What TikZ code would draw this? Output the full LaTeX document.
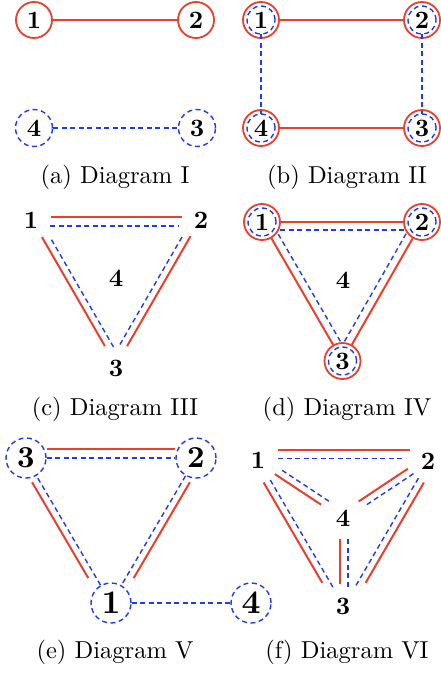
\documentclass[tikz,border=0pt]{standalone}
\usepackage{tikz}
\usetikzlibrary{calc}
\usepackage{graphicx}
\usepackage{xcolor}
\definecolor{edgered}{RGB}{234,62,46}
\definecolor{edgeblue}{RGB}{30,60,235}
\newcommand{\nb}[2][2.5]{\scalebox{#1}{\fontsize{10}{12}\selectfont\bfseries #2}}
\newcommand{\panelcap}[1]{\scalebox{2.45}{\fontsize{10}{12}\selectfont #1}}
\newcommand{\sideline}[4][]{\draw[#1] ($(#2.center)!#4!90:(#3.center)$) -- ($(#3.center)!#4!-90:(#2.center)$);}

\begin{document}
\begin{tikzpicture}[
    x=1pt, y=-1pt,
    redline/.style={draw=edgered, line width=2pt},
    blueline/.style={draw=edgeblue, line width=1.4pt, dash pattern=on 5pt off 3.5pt},
    redring/.style={circle, draw=edgered, line width=1.8pt, minimum size=36pt, inner sep=0pt},
    bluering/.style={circle, draw=edgeblue, line width=1.4pt, dash pattern=on 5pt off 3.5pt, minimum size=37pt, inner sep=0pt},
    twinring/.style={redring, path picture={\draw[blueline] (path picture bounding box.center) circle (14pt);}},
    num/.style={inner sep=0pt},
    caption/.style={anchor=base, inner sep=0pt}
  ]
    \useasboundingbox (0,0) rectangle (440,679);

    % (a)
    \node[redring] (a1) at (34,20) {\nb{1}};
    \node[redring] (a2) at (196,20) {\nb{2}};
    \node[bluering] (a4) at (34,128) {\nb{4}};
    \node[bluering] (a3) at (197,128) {\nb{3}};
    \draw[redline] (a1) -- (a2);
    \draw[blueline] (a4) -- (a3);
    \node[caption] (capa) at (115,183) {\panelcap{(a) Diagram I}};

    % (b)
    \node[twinring] (b1) at (261,20) {\nb{1}};
    \node[twinring] (b2) at (422,20) {\nb{2}};
    \node[twinring] (b4) at (261,128) {\nb{4}};
    \node[twinring] (b3) at (422,128) {\nb{3}};
    \draw[redline] (b1) -- (b2);
    \draw[redline] (b4) -- (b3);
    \draw[blueline, shorten <=-4.5pt, shorten >=-4.5pt] (b1) -- (b4);
    \draw[blueline, shorten <=-4.5pt, shorten >=-4.5pt] (b2) -- (b3);
    \node[caption] (capb) at (347,183) {\panelcap{(b) Diagram II}};

    % (c)
    \coordinate (c1) at (37,221.5);
    \coordinate (c2) at (195,221.5);
    \coordinate (c3) at (116,358.3);
    \node[num] (c1n) at (31,220) {\nb{1}};
    \node[num] (c2n) at (201,220) {\nb{2}};
    \node[num] (c3n) at (116,368) {\nb{3}};
    \node[num] (c4n) at (116,278) {\nb{4}};
    \sideline[redline, shorten <=13.5pt, shorten >=13.5pt]{c1}{c2}{4.5pt}
    \sideline[blueline, shorten <=13pt, shorten >=16pt]{c1}{c2}{-4.5pt}
    \sideline[redline, shorten <=15pt, shorten >=16pt]{c2}{c3}{3.5pt}
    \sideline[blueline, shorten <=20pt, shorten >=12pt]{c2}{c3}{-3.5pt}
    \sideline[redline, shorten <=16pt, shorten >=16pt]{c3}{c1}{3.5pt}
    \sideline[blueline, shorten <=11pt, shorten >=20pt]{c3}{c1}{-3.5pt}
    \node[caption] (capc) at (115,415) {\panelcap{(c) Diagram III}};

    % (d)
    \node[twinring] (d1) at (262,222) {\nb{1}};
    \node[twinring] (d2) at (422,222) {\nb{2}};
    \node[twinring] (d3) at (342.5,361) {\nb{3}};
    \node[num] (d4) at (343,280) {\nb{4}};
    \draw[redline] (d1) -- (d2);
    \draw[redline] (d2) -- (d3);
    \draw[redline] (d3) -- (d1);
    \sideline[blueline, shorten <=18pt, shorten >=18pt]{d1}{d2}{-8pt}
    \sideline[blueline, shorten <=18pt, shorten >=18pt]{d2}{d3}{-8pt}
    \sideline[blueline, shorten <=18pt, shorten >=18pt]{d3}{d1}{-8pt}
    \node[caption] (capd) at (347,415) {\panelcap{(d) Diagram IV}};

    % (e)
    \node[bluering, minimum size=40pt] (e3) at (26,458) {\nb[3.05]{3}};
    \node[bluering, minimum size=40pt] (e2) at (196,458) {\nb[3.05]{2}};
    \node[bluering, minimum size=40pt] (e1) at (111,603) {\nb[3.3]{1}};
    \node[bluering, minimum size=40pt] (e4) at (251,603) {\nb[3.3]{4}};
    \draw[blueline] (e3) -- (e2);
    \draw[blueline] (e2) -- (e1);
    \draw[blueline] (e1) -- (e3);
    \draw[blueline] (e1) -- (e4);
    \sideline[redline, shorten <=21pt, shorten >=21pt]{e3}{e2}{9.5pt}
    \sideline[redline, shorten <=24pt, shorten >=33pt]{e2}{e1}{7pt}
    \sideline[redline, shorten <=33pt, shorten >=24pt]{e1}{e3}{7pt}
    \node[caption] (cape) at (115,658) {\panelcap{(e) Diagram V}};

    % (f)
    \coordinate (f1) at (251,454);
    \coordinate (f2) at (436.5,454);
    \coordinate (f3) at (344,613);
    \coordinate (f4) at (344,515.5);
    \node[num] (f1n) at (258,460) {\nb{1}};
    \node[num] (f2n) at (428,461) {\nb{2}};
    \node[num] (f4n) at (343,518) {\nb{4}};
    \node[num] (f3n) at (343,606) {\nb{3}};
    \sideline[redline, shorten <=27pt, shorten >=27pt]{f1}{f2}{4.5pt}
    \sideline[blueline, shorten <=27pt, shorten >=31pt]{f1}{f2}{-4.5pt}
    \sideline[redline, shorten <=31pt, shorten >=37pt]{f2}{f3}{3.5pt}
    \sideline[blueline, shorten <=30pt, shorten >=28pt]{f2}{f3}{-3.5pt}
    \sideline[redline, shorten <=37pt, shorten >=31pt]{f3}{f1}{3.5pt}
    \sideline[blueline, shorten <=28pt, shorten >=30pt]{f3}{f1}{-3.5pt}
    \sideline[redline, shorten <=31pt, shorten >=25pt]{f1}{f4}{-3.6pt}
    \sideline[blueline, shorten <=35pt, shorten >=20pt]{f1}{f4}{3.6pt}
    \sideline[redline, shorten <=32pt, shorten >=20pt]{f2}{f4}{-3.6pt}
    \sideline[blueline, shorten <=30pt, shorten >=25pt]{f2}{f4}{3.6pt}
    \sideline[redline, shorten <=23.5pt, shorten >=29pt]{f4}{f3}{-4pt}
    \sideline[blueline, shorten <=23.5pt, shorten >=26pt]{f4}{f3}{4pt}
    \node[caption] (capf) at (347,658) {\panelcap{(f) Diagram VI}};
  \end{tikzpicture}
\end{document}
